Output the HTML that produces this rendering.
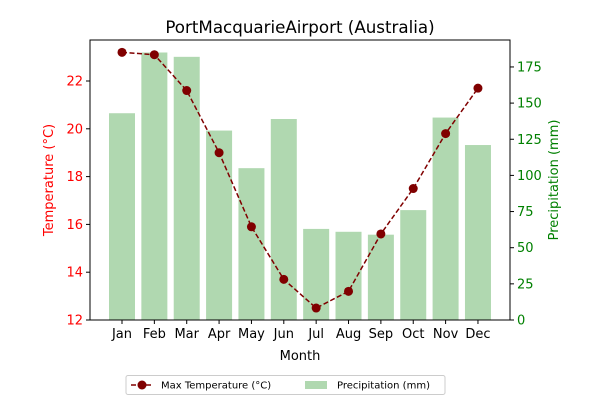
<!DOCTYPE html>
<html><head><meta charset="utf-8"><style>
body{margin:0;background:#fff;font-family:"Liberation Sans","DejaVu Sans",sans-serif}
svg text{font-family:"DejaVu Sans","Liberation Sans",sans-serif}
</style></head><body>
<svg id="c" width="600" height="400"></svg>
<script>
const months=["Jan","Feb","Mar","Apr","May","Jun","Jul","Aug","Sep","Oct","Nov","Dec"];
const maxTemp=[23.2,23.1,21.6,19.0,15.9,13.7,12.5,13.2,15.6,17.5,19.8,21.7];
const precip=[143,185,182,131,105,139,63,61,59,76,140,121];
const tempTicks=[12,14,16,18,20,22];
const precipTicks=[0,25,50,75,100,125,150,175];
const L=90,R=510,T=40,B=320;
const x=i=>122+i*32.36;
const yT=v=>320-(v-12)*23.9;
const yP=v=>320-v*1.446;
const ns="http://www.w3.org/2000/svg";
const svg=document.getElementById('c');
function mk(tag,attrs,txt){const e=document.createElementNS(ns,tag);for(const k in attrs)e.setAttribute(k,attrs[k]);if(txt!==undefined)e.textContent=txt;svg.appendChild(e);return e;}
precip.forEach((v,i)=>{const r=mk('rect',{x:x(i)-13,y:yP(v),width:26,height:B-yP(v),fill:'#b0d8b0'});

});
let d=maxTemp.map((v,i)=>(i?'L':'M')+x(i)+' '+yT(v)).join(' ');
const ln=mk('path',{d:d,fill:'none',stroke:'#800000','stroke-width':1.5,'stroke-dasharray':'5,2.5'});


maxTemp.forEach((v,i)=>{const c=mk('circle',{cx:x(i),cy:yT(v),r:4.5,fill:'#800000'});

});
const fr=mk('rect',{x:L,y:T,width:R-L,height:B-T,fill:'none',stroke:'#000','stroke-width':1});


tempTicks.forEach(v=>{mk('line',{x1:L-4,x2:L,y1:yT(v),y2:yT(v),stroke:'#000'});
const t=mk('text',{x:L-7,y:yT(v)+4.5,'text-anchor':'end','font-size':13,fill:'red'},v);

});
precipTicks.forEach(v=>{mk('line',{x1:R,x2:R+4,y1:yP(v),y2:yP(v),stroke:'#000'});
const t=mk('text',{x:R+7,y:yP(v)+4.5,'font-size':13,fill:'green'},v);

});
months.forEach((m,i)=>{mk('line',{x1:x(i),x2:x(i),y1:B,y2:B+4,stroke:'#000'});
const t=mk('text',{x:x(i),y:B+18,'text-anchor':'middle','font-size':13},m);

});
</script>
<svg width="600" height="400" style="position:absolute;left:0;top:0">
<text x="300" y="33" text-anchor="middle" font-size="16.7">PortMacquarieAirport (Australia)</text>
<text x="300" y="360" text-anchor="middle" font-size="13">Month</text>
<text transform="translate(53,180) rotate(-90)" text-anchor="middle" font-size="13" fill="red">Temperature (°C)</text>
<text transform="translate(558,180) rotate(-90)" text-anchor="middle" font-size="13" fill="green">Precipitation (mm)</text>
<g>
<rect x="126" y="375.5" width="319" height="19" fill="#fff" stroke="#ccc" rx="2"/>
<line x1="131" x2="153" y1="385" y2="385" stroke="#800000" stroke-width="1.5" stroke-dasharray="5,2.5"/>
<circle cx="142" cy="385" r="4.5" fill="#800000"/>
<text x="161" y="388.5" font-size="10">Max Temperature (°C)</text>
<rect x="305" y="381" width="22" height="8" fill="#b0d8b0"/>
<text x="337" y="388.5" font-size="10">Precipitation (mm)</text>
</g>
</svg>
</body></html>
